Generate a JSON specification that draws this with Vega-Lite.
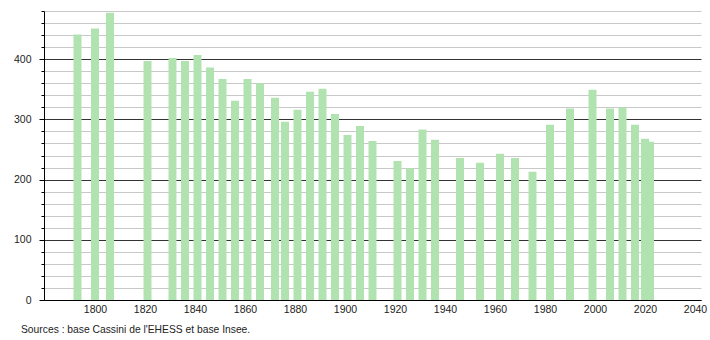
{
  "$schema": "https://vega.github.io/schema/vega-lite/v6.json",
  "width": 657,
  "height": 289,
  "autosize": "none",
  "padding": {"left": 44, "top": 11, "right": 9, "bottom": 40},
  "background": "#ffffff",
  "config": {"view": {"stroke": null}, "font": "Liberation Sans"},
  "title": {
    "text": "Sources : base Cassini de l'EHESS et base Insee.",
    "orient": "bottom",
    "anchor": "start",
    "frame": "group",
    "dx": -23,
    "offset": 10,
    "fontSize": 10.3,
    "fontWeight": "normal",
    "color": "#222222"
  },
  "data": {
    "values": [
      {"year": 1793, "population": 441},
      {"year": 1800, "population": 451},
      {"year": 1806, "population": 477},
      {"year": 1821, "population": 397},
      {"year": 1831, "population": 402},
      {"year": 1836, "population": 397},
      {"year": 1841, "population": 407},
      {"year": 1846, "population": 386},
      {"year": 1851, "population": 367},
      {"year": 1856, "population": 331},
      {"year": 1861, "population": 367},
      {"year": 1866, "population": 360},
      {"year": 1872, "population": 336},
      {"year": 1876, "population": 296},
      {"year": 1881, "population": 316},
      {"year": 1886, "population": 346},
      {"year": 1891, "population": 351},
      {"year": 1896, "population": 309},
      {"year": 1901, "population": 274},
      {"year": 1906, "population": 289},
      {"year": 1911, "population": 264},
      {"year": 1921, "population": 231},
      {"year": 1926, "population": 219},
      {"year": 1931, "population": 283},
      {"year": 1936, "population": 266},
      {"year": 1946, "population": 236},
      {"year": 1954, "population": 228},
      {"year": 1962, "population": 243},
      {"year": 1968, "population": 236},
      {"year": 1975, "population": 213},
      {"year": 1982, "population": 291},
      {"year": 1990, "population": 318},
      {"year": 1999, "population": 349},
      {"year": 2006, "population": 318},
      {"year": 2011, "population": 320},
      {"year": 2016, "population": 291},
      {"year": 2020, "population": 268},
      {"year": 2022, "population": 263}
    ]
  },
  "mark": {"type": "bar", "width": 8, "color": "#b1e3b1"},
  "encoding": {
    "x": {
      "field": "year",
      "type": "quantitative",
      "scale": {"domain": [1779.6, 2042.4], "nice": false, "zero": false, "padding": 0},
      "axis": {
        "values": [1800, 1820, 1840, 1860, 1880, 1900, 1920, 1940, 1960, 1980, 2000, 2020, 2040],
        "format": "d",
        "title": null,
        "grid": false,
        "ticks": false,
        "domainColor": "#000000",
        "labelColor": "#222222",
        "labelFontSize": 10.5,
        "labelPadding": 4
      }
    },
    "y": {
      "field": "population",
      "type": "quantitative",
      "scale": {"domain": [0, 480], "nice": false},
      "axis": {
        "values": [0, 20, 40, 60, 80, 100, 120, 140, 160, 180, 200, 220, 240, 260, 280, 300, 320, 340, 360, 380, 400, 420, 440, 460, 480],
        "title": null,
        "grid": true,
        "gridColor": {"condition": {"test": "datum.value % 100 === 0", "value": "#333333"}, "value": "#c8c8c8"},
        "tickColor": "#000000",
        "tickSize": {"condition": {"test": "datum.value % 100 === 0", "value": 5}, "value": 3},
        "labelExpr": "datum.value % 100 === 0 ? datum.label : ''",
        "labelOverlap": false,
        "domainColor": "#000000",
        "labelColor": "#222222",
        "labelFontSize": 10.5,
        "labelPadding": 8
      }
    }
  }
}
